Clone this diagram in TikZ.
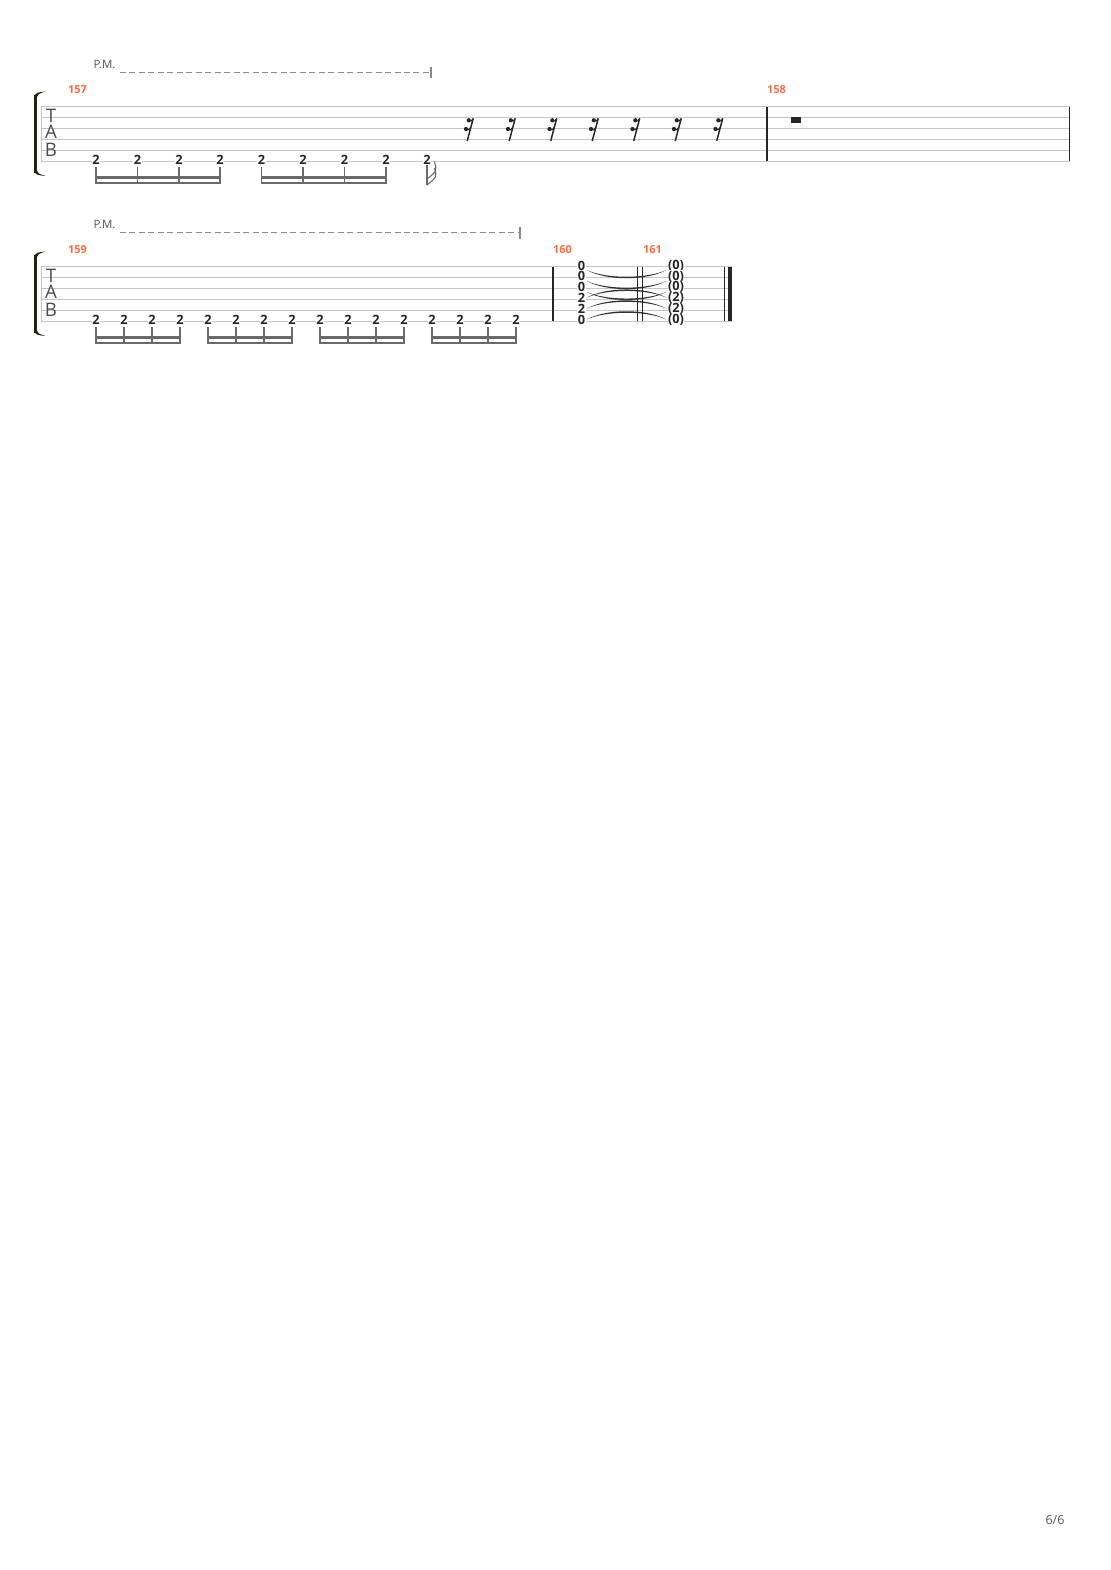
\documentclass[tikz,border=0pt]{standalone}
\usepackage{fontspec}
\setmainfont{Open Sans}
\usepackage{tikz}
\usetikzlibrary{calc}
\definecolor{barnum}{HTML}{FF6A3D}
\definecolor{staffgray}{HTML}{C6C6C6}
\definecolor{inkgray}{HTML}{555555}
\definecolor{pmgray}{HTML}{8A8A8A}
\definecolor{beamgray}{HTML}{6A6A6A}
\definecolor{brackink}{HTML}{22220F}

\begin{document}
\begin{tikzpicture}[x=0.75pt,y=-0.75pt,
  staffline/.style={draw=staffgray,line width=0.75pt},
  barline/.style={draw=black!85,line width=0.95pt},
  fret/.style={fill=white,inner sep=0.3pt,text=black!85,font=\fontsize{9.6}{9.6}\selectfont\bfseries},
  barnum/.style={text=barnum,font=\fontsize{8.3}{8.5}\selectfont\bfseries},
  tabletter/.style={text=black!70,font=\fontsize{14}{14}\selectfont},
  pmtext/.style={text=inkgray,font=\fontsize{8.6}{9}\selectfont},
  pmline/.style={draw=pmgray,line width=1pt,dash pattern=on 4.5pt off 2.6pt},
  stem/.style={draw=beamgray,line width=0.8pt},
  beam/.style={fill=beamgray},
  reststroke/.style={draw=black!85,line width=1.1pt},
  tie/.style={fill=black!80},
]
\fill[white] (0,0) rectangle (1110,1570);
\useasboundingbox (0,0) rectangle (1110,1570);

% staves, brackets, TAB clef
\foreach \sy/\xe [count=\s] in {106.5/1069.5,266.5/731.5}{
  \foreach \k in {0,...,5}
    \draw[staffline] (41,\sy+10.9*\k) -- (\xe,\sy+10.9*\k);
  \draw[staffline] (41,\sy) -- (41,\sy+54.5);
  \fill[brackink] (33.8,\sy-11.5) rectangle (36.6,\sy+66);
  \fill[brackink] (33.8,\sy-11) .. controls (37,\sy-14) .. (45.5,\sy-15) .. controls (38,\sy-12.5) .. (36.6,\sy-9) -- cycle;
  \fill[brackink] (33.8,\sy+65.5) .. controls (37,\sy+68.5) .. (45.5,\sy+69.5) .. controls (38,\sy+67) .. (36.6,\sy+63.5) -- cycle;
  \node[tabletter] (tabT\s) at (51,\sy+9.5) {T};
  \node[tabletter] (tabA\s) at (51,\sy+25.8) {A};
  \node[tabletter] (tabB\s) at (51,\sy+43.2) {B};
}

% palm mute
\node[pmtext] (pm1) at (104.5,64) {P.M.};
\coordinate (pmstart1) at (120,72.7);
\coordinate (pmend1) at (431,72.7);
\draw[pmline] (pmstart1) -- (pmend1);
\draw[pmgray,line width=1pt] (431,67) -- (431,78.5);
\node[pmtext] (pm2) at (104.5,224) {P.M.};
\coordinate (pmstart2) at (120,232.7);
\coordinate (pmend2) at (520,232.7);
\draw[pmline] (pmstart2) -- (pmend2);
\draw[pmgray,line width=1pt] (520,227) -- (520,238.5);

% bar numbers
\node[barnum] (m157) at (77.5,90) {157};
\node[barnum] (m158) at (776.5,90) {158};
\node[barnum] (m159) at (77.5,250) {159};
\node[barnum] (m160) at (562.5,250) {160};
\node[barnum] (m161) at (652.5,250) {161};

% bar 157
\foreach \x [count=\i] in {96,137.5,179,220,261.5,303,344.5,386,427}{
  \node[fret] (n157-\i) at (\x,159.5) {2};
}
\foreach \x in {96,137.5,179,220,261.5,303,344.5,386}
  \draw[stem] (\x,166.5) -- (\x,184);
\fill[beam] (96,176.3) rectangle (220,178.7);
\fill[beam] (96,181.5) rectangle (220,184);
\fill[beam] (261.5,176.3) rectangle (386,178.7);
\fill[beam] (261.5,181.5) rectangle (386,184);
\draw[stem] (427,165) -- (427,185);
\draw[stem] (427,185) .. controls (437,177) .. (434.5,168);
\draw[stem] (427,179) .. controls (437,171) .. (434.5,162);
\foreach \x [count=\i] in {468,510,551.5,593,634.5,676,717.5}{
  \draw[reststroke] (\x+5.2,118.5) -- (\x-0.8,141);
  \fill[black!85] (\x+0.8,120.3) circle (1.6pt);
  \fill[black!85] (\x-2,129) circle (1.6pt);
  \draw[reststroke,line width=0.8pt] (\x+0.8,120.5) .. controls (\x+3,121.5) .. (\x+5.2,118.5);
  \draw[reststroke,line width=0.8pt] (\x-2,129.2) .. controls (\x+0.5,130.3) .. (\x+2.8,127.2);
}
\draw[barline] (767,106.5) -- (767,161);

% bar 158
\fill[black!85] (791,117.4) rectangle (800.5,122.8);
\draw[barline] (1069.5,106.5) -- (1069.5,161);

% bar 159
\foreach \i in {1,...,16}{
  \node[fret] (n159-\i) at (96+28*\i-28,319.5) {2};
  \draw[stem] (96+28*\i-28,326.5) -- (96+28*\i-28,344);
}
\foreach \g in {0,...,3}{
  \fill[beam] (96+112*\g,336.3) rectangle (180+112*\g,338.7);
  \fill[beam] (96+112*\g,341.5) rectangle (180+112*\g,344);
}
\draw[barline] (553,266.5) -- (553,321);

% bars 160 and 161
\foreach \f/\g [count=\k] in {0/(0),0/(0),0/(0),2/(2),2/(2),0/(0)}{
  \node[fret] (c160-\k) at (581.5,266.5+10.9*\k-10.9-1) {\f};
  \node[fret] (c161-\k) at (676,266.5+10.9*\k-10.9-1) {\g};
}
\foreach \k/\d/\o in {1/1/4.5,2/1/4.5,3/1/4.5,4/-1/-0.5,5/-1/-0.5,6/-1/-0.5}{
  \coordinate (ta) at ($(c160-\k.center)+(5,\o)$);
  \coordinate (tb) at ($(c161-\k.center)+(-9.5,\o)$);
  \fill[tie] (ta) .. controls +(20,11*\d) and +(-20,11*\d) .. (tb)
             .. controls +(-20,9*\d) and +(20,9*\d) .. (ta);
}
\draw[barline] (637.3,266.5) -- (637.3,321);
\draw[barline] (642.3,266.5) -- (642.3,321);
\draw[barline] (724.3,266.5) -- (724.3,321);
\fill[black!85] (727.7,266.5) rectangle (731.7,321);

% page number
\node[pmtext,font=\fontsize{9.4}{9.5}\selectfont] (page) at (1055,1520.5) {6/6};
\end{tikzpicture}
\end{document}
